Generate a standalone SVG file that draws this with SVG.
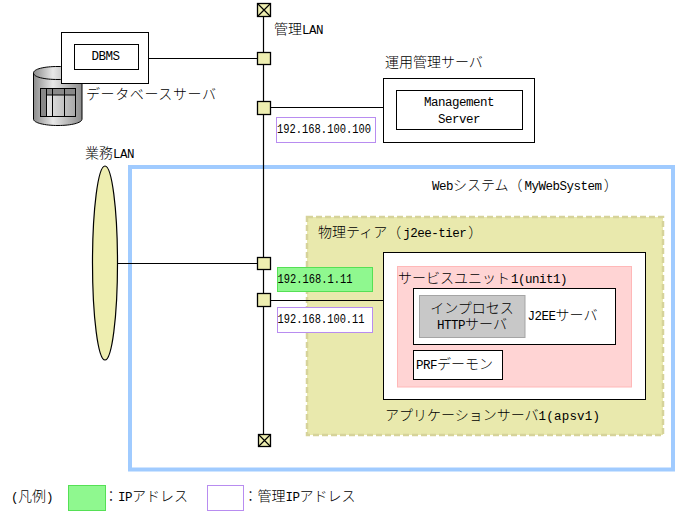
<svg xmlns="http://www.w3.org/2000/svg" width="678" height="514" viewBox="0 0 678 514">
<style>
text{font-family:"Noto Sans CJK JP","Liberation Sans",sans-serif;font-size:14px;font-weight:300;fill:#000}
.m{font-family:"Liberation Mono","Noto Sans CJK JP",monospace;font-size:12.5px;font-weight:400;letter-spacing:-.5px}
.w{letter-spacing:.2px}
.ip{font-family:"Liberation Mono",monospace;font-size:12.5px;font-weight:400}
.c{text-anchor:middle}
.b{fill:#fff;stroke:#000;stroke-width:1}
.hub{fill:#eeeeb0;stroke:#000;stroke-width:1.3}
.line{fill:none;stroke:#000;stroke-width:1.2}
.green{fill:#8ff88f;stroke:#55e055;stroke-width:1}
.purple{fill:#fff;stroke:#b88cf0;stroke-width:1}
</style>
<defs>
<linearGradient id="cyl" x1="0" x2="1" y1="0" y2="0">
<stop offset="0" stop-color="#8c8c8c"/><stop offset=".4" stop-color="#e8e8e8"/><stop offset="1" stop-color="#8c8c8c"/>
</linearGradient>
<linearGradient id="cell" x1="0" x2="1" y1="0" y2="0">
<stop offset="0" stop-color="#f4f4f4"/><stop offset="1" stop-color="#a8a8a8"/>
</linearGradient>
</defs>
<g id="web-system"><rect x="130" y="167" width="543" height="302.500" fill="#fff" stroke="#a0cbff" stroke-width="4"/><text x="432" y="190"><tspan class="m">Web</tspan>システム（<tspan class="m" dx="2">MyWebSystem</tspan><tspan dx="2">）</tspan></text></g>
<g id="tier"><rect x="307" y="217" width="356" height="218" fill="#e9e9ad" stroke="#d6d39a" stroke-width="2.500" stroke-dasharray="6 3"/><text x="318" y="237">物理ティア（<tspan class="m" dx="2">j2ee-tier</tspan><tspan dx="2">）</tspan></text></g>
<g id="connectors">
<path class="line" d="M263.500 16V435M148 58.500H258M270 107.500H384M118 263.500H258M270 300.500H384"/>
</g>
<g id="lan-top"><rect class="hub" x="257.500" y="3.500" width="13" height="13"/><path class="line" d="M257.500 3.500l13 13M270.500 3.500l-13 13"/></g>
<g id="lan-bottom"><rect class="hub" x="258.500" y="434.500" width="12" height="12"/><path class="line" d="M258.500 434.500l12 12M270.500 434.500l-12 12"/></g>
<g id="hub-1"><rect class="hub" x="257.500" y="52.500" width="13" height="12"/></g>
<g id="hub-2"><rect class="hub" x="257.500" y="101.500" width="13" height="13"/></g>
<g id="hub-3"><rect class="hub" x="257.500" y="257.500" width="13" height="12"/></g>
<g id="hub-4"><rect class="hub" x="257.500" y="293.500" width="13" height="13"/></g>
<g id="label-mgmt-lan"><text x="274" y="34">管理<tspan class="m">LAN</tspan></text></g>
<g id="label-biz-lan"><text x="85" y="158">業務<tspan class="m">LAN</tspan></text></g>
<g id="biz-lan"><ellipse cx="105" cy="263" rx="12.500" ry="97" fill="#eeeeb0" stroke="#000" stroke-width="1.200"/></g>
<g id="database">
<path d="M33.500 73C33.500 69 44 66.500 58 66.500S82 69 82 73V119C82 123 71 125.500 58 125.500S33.500 123 33.500 119Z" fill="url(#cyl)" stroke="#000" stroke-width="1"/>
<path d="M33.500 73C33.500 77 44 79.500 58 79.500S82 77 82 73" fill="none" stroke="#000" stroke-width="1"/>
<rect x="40.500" y="88.500" width="35" height="28" fill="url(#cell)" stroke="#000" stroke-width="1"/>
<rect x="40.500" y="88.500" width="35" height="6.500" fill="#888" stroke="#000" stroke-width="1"/>
<rect x="40.500" y="88.500" width="6" height="28" fill="#888" stroke="#000" stroke-width="1"/>
<path d="M52.500 88.500V116.500M64.500 88.500V116.500" stroke="#000" stroke-width="1" fill="none"/>
<text x="86" y="99" textLength="130">データベースサーバ</text>
</g>
<g id="dbms-server"><rect class="b" x="61.500" y="32.500" width="87" height="51"/><rect class="b" x="74.500" y="44.500" width="64" height="25"/><text class="m c" x="105.500" y="60">DBMS</text></g>
<g id="mgmt-server"><text x="385" y="67">運用管理サーバ</text><rect class="b" x="383.500" y="78.500" width="151" height="64"/><rect class="b" x="396.500" y="90.500" width="126" height="39"/><text class="m c" x="459" y="106">Management</text><text class="m c" x="459" y="123">Server</text></g>
<g id="ip-mgmt"><rect class="purple" x="276.500" y="117.500" width="99" height="25"/><text class="ip" x="277" y="133" textLength="94" lengthAdjust="spacingAndGlyphs">192.168.100.100</text></g>
<g id="ip-biz"><rect class="green" x="277.500" y="267.500" width="95" height="24"/><text class="ip" x="277.500" y="283" textLength="75" lengthAdjust="spacingAndGlyphs">192.168.1.11</text></g>
<g id="ip-apsv"><rect class="purple" x="277.500" y="307.500" width="95" height="25"/><text class="ip" x="277.500" y="323" textLength="87" lengthAdjust="spacingAndGlyphs">192.168.100.11</text></g>
<g id="apsv"><rect class="b" x="383.500" y="252.500" width="262" height="147"/><text x="385" y="420">アプリケーションサーバ<tspan class="m w">1(apsv1)</tspan></text></g>
<g id="unit"><rect x="397.500" y="266.500" width="234" height="120.500" fill="#ffd4d4" stroke="#ffb8b8" stroke-width="1"/><text x="398" y="283">サービスユニット<tspan class="m" dx="1">1(unit1)</tspan></text></g>
<g id="j2ee"><rect class="b" x="413.500" y="288.500" width="202" height="56"/><text x="527.500" y="320"><tspan class="m">J2EE</tspan>サーバ</text></g>
<g id="http"><rect x="419.500" y="295.500" width="105.500" height="42" fill="#c8c8c8" stroke="#a5a5a5" stroke-width="1"/><text class="c" x="472" y="313">インプロセス</text><text class="c" x="472" y="329"><tspan class="m">HTTP</tspan>サーバ</text></g>
<g id="prf"><rect class="b" x="413.500" y="350.500" width="89" height="29"/><text x="416" y="369"><tspan class="m">PRF</tspan>デーモン</text></g>
<g id="legend">
<text x="11" y="501"><tspan class="m">(</tspan>凡例<tspan class="m">)</tspan></text>
<rect class="green" x="68.500" y="485.500" width="37" height="25"/><text x="104" y="501">：<tspan class="m">IP</tspan>アドレス</text>
<rect class="purple" x="207.500" y="485.500" width="36" height="25"/><text x="243.500" y="501">：管理<tspan class="m">IP</tspan>アドレス</text>
</g>
</svg>
